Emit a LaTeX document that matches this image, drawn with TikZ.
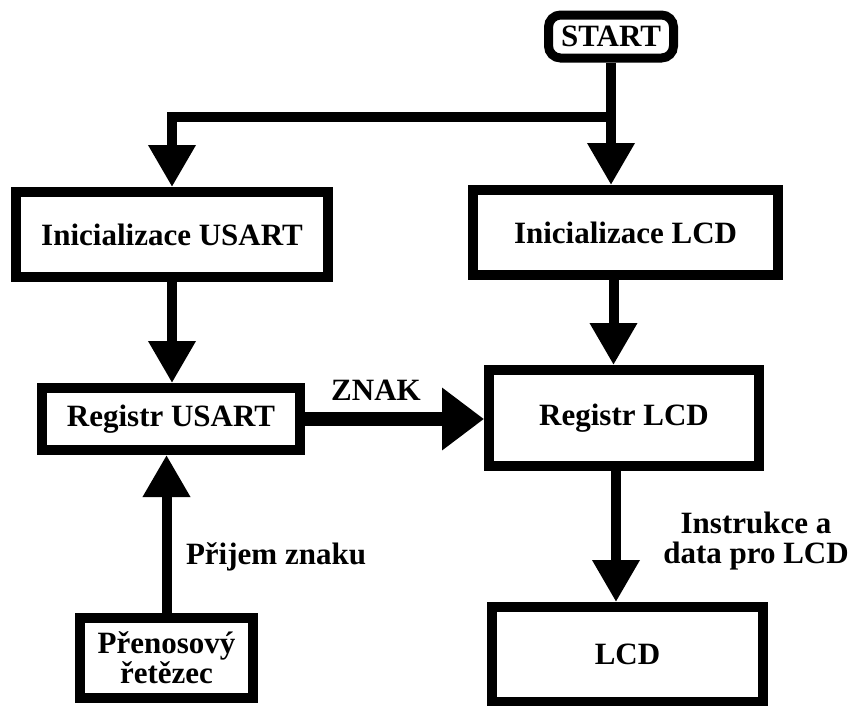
\documentclass[tikz,border=0pt]{standalone}
\usepackage{fontspec}
\setmainfont{Liberation Serif}
\usetikzlibrary{arrows.meta}
\begin{document}
\begin{tikzpicture}[x=1pt,y=-1pt,
  every node/.style={font=\fontsize{31}{30}\selectfont\bfseries},
  box/.style={draw,line width=10pt,rectangle,inner sep=0pt,align=center},
  conn/.style={line width=10pt,line join=miter,-{Triangle[width=45pt,length=42pt]}},
  bigconn/.style={line width=14pt,-{Triangle[width=60pt,length=42pt]}},
  lbl/.style={inner sep=0pt,align=center}]
\useasboundingbox (0,0) rectangle (853,705);
\node[box,rounded corners=12pt,line width=9pt,minimum width=125pt,minimum height=43pt] (start) at (611,36.5) {START};
\node[box,minimum width=312pt,minimum height=85pt] (iusart) at (172,234.5) {Inicializace USART};
\node[box,minimum width=305pt,minimum height=85pt] (ilcd) at (625.5,232.5) {Inicializace LCD};
\node[box,minimum width=258pt,minimum height=62pt] (rusart) at (171,419) {Registr USART};
\node[box,minimum width=270pt,minimum height=96pt] (rlcd) at (624,418) {Registr LCD};
\node[box,minimum width=173pt,minimum height=80pt] (pren) at (166.5,658) {Přenosový\\řetězec};
\node[box,minimum width=271pt,minimum height=95pt] (lcd) at (627.5,654.5) {LCD};
\coordinate (j) at (611,117);
\draw[conn] (start.south) -- (start.south |- ilcd.north);
\draw[conn] (j) -| (iusart.north);
\draw[conn] (iusart.south) -- (iusart.south |- rusart.north);
\draw[conn] ([xshift=-12pt]ilcd.south) -- ([xshift=-12pt]ilcd.south |- rlcd.north);
\draw[conn] ([xshift=-8pt]rlcd.south) -- ([xshift=-8pt]rlcd.south |- lcd.north);
\draw[conn] (pren.north) -- (pren.north |- rusart.south);
\draw[bigconn] (rusart.east) -- (rusart.east -| rlcd.west);
\node[lbl] (znak) at (376,390) {ZNAK};
\node[lbl] (prijem) at (276,557) {Přijem znaku};
\node[lbl] (instr) at (756,541) {Instrukce a\\data pro LCD};
\end{tikzpicture}
\end{document}
